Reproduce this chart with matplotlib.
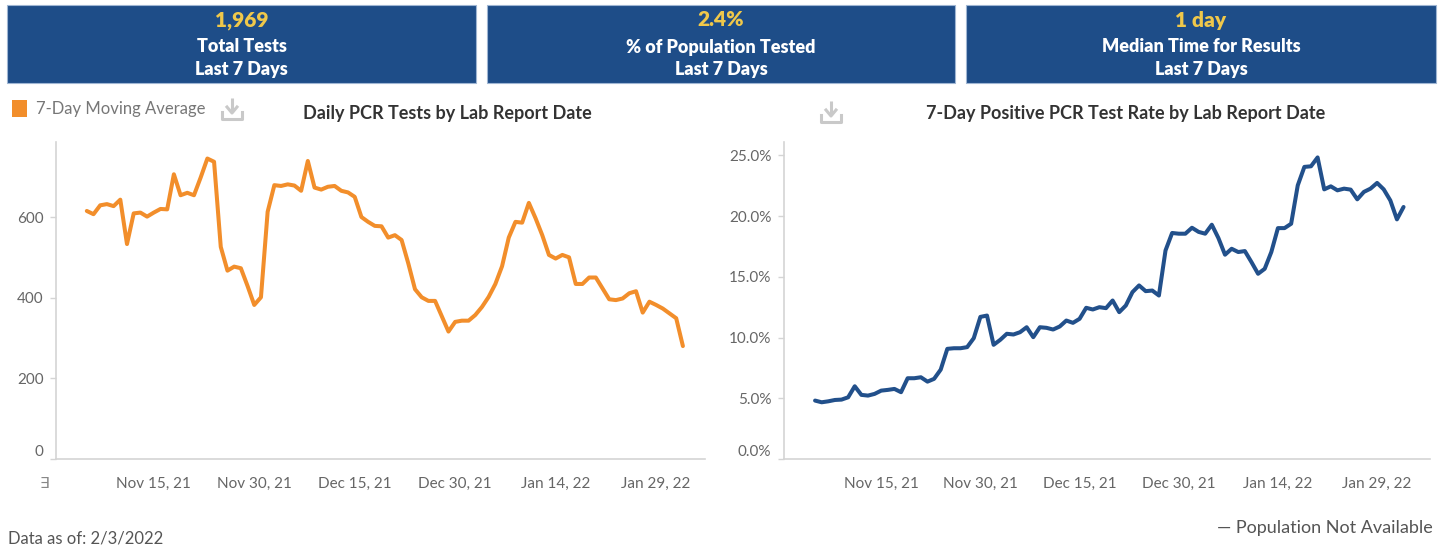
import matplotlib
matplotlib.use("Agg")
import matplotlib.pyplot as plt
import matplotlib.patches as patches
import pandas as pd

plt.rcParams['font.family'] = ['Lato', 'DejaVu Sans']

# ---------------- data ----------------
start_date = "2021-11-05"
end_date = "2022-02-02"

tests_7day_avg = [615, 607, 629, 632, 627, 643, 533, 609, 611, 601,
                  611, 620, 619, 706, 654, 660, 654, 698, 745, 737,
                  526, 467, 477, 473, 429, 382, 401, 613, 679, 677,
                  681, 678, 665, 739, 673, 668, 675, 677, 665, 661,
                  650, 600, 588, 578, 577, 549, 555, 543, 485, 421,
                  401, 392, 392, 354, 316, 340, 343, 343, 357, 377,
                  402, 434, 478, 549, 588, 586, 635, 597, 555, 506,
                  497, 506, 500, 434, 434, 450, 450, 423, 396, 394,
                  398, 411, 416, 363, 390, 382, 373, 361, 349, 280]

positive_rate = [4.81, 4.67, 4.75, 4.86, 4.89, 5.08, 5.99, 5.28, 5.22, 5.36,
                 5.63, 5.69, 5.77, 5.50, 6.65, 6.65, 6.73, 6.37, 6.60, 7.36,
                 9.07, 9.12, 9.12, 9.21, 9.95, 11.70, 11.81, 9.40, 9.81, 10.31,
                 10.25, 10.44, 10.85, 10.03, 10.85, 10.80, 10.66, 10.91, 11.40, 11.21,
                 11.54, 12.45, 12.31, 12.50, 12.42, 13.05, 12.09, 12.64, 13.74, 14.29,
                 13.82, 13.87, 13.46, 17.17, 18.61, 18.55, 18.55, 19.04, 18.70, 18.55,
                 19.29, 18.19, 16.82, 17.31, 17.04, 17.12, 16.21, 15.25, 15.66, 17.04,
                 19.01, 19.01, 19.37, 22.53, 24.05, 24.10, 24.83, 22.20, 22.45, 22.12,
                 22.26, 22.18, 21.38, 21.99, 22.26, 22.73, 22.20, 21.29, 19.73, 20.75]

tick_dates = ["2021-11-15", "2021-11-30", "2021-12-15", "2021-12-30", "2022-01-14", "2022-01-29"]
tick_labels = ["Nov 15, 21", "Nov 30, 21", "Dec 15, 21", "Dec 30, 21", "Jan 14, 22", "Jan 29, 22"]

left_yticks = [0, 200, 400, 600]
left_ylabels = ["0", "200", "400", "600"]
right_yticks = [0, 5, 10, 15, 20, 25]
right_ylabels = ["0.0%", "5.0%", "10.0%", "15.0%", "20.0%", "25.0%"]

kpi_values = ["1,969", "2.4%", "1 day"]
kpi_line1 = ["Total Tests", "% of Population Tested", "Median Time for Results"]
kpi_line2 = ["Last 7 Days", "Last 7 Days", "Last 7 Days"]

dates = pd.date_range(start_date, end_date, freq="D")

# ---------------- styling ----------------
W, H = 1442, 550
ORANGE = "#F28E2B"
BLUE = "#22508b"
BOX = "#1e4d88"
YELLOW = "#f0c84a"
TICK = "#666666"
AXLINE = "#d4d4d4"

fig = plt.figure(figsize=(W / 100, H / 100), dpi=100)
bg = fig.add_axes([0, 0, 1, 1])
bg.set_xlim(0, W)
bg.set_ylim(H, 0)
bg.axis("off")

# KPI boxes
boxes = [(7, 476), (487, 955), (966, 1436)]
for (x0, x1), v, l1, l2 in zip(boxes, kpi_values, kpi_line1, kpi_line2):
    bg.add_patch(patches.Rectangle((x0, 5), x1 - x0, 78, facecolor=BOX, edgecolor="#9fb6d3", lw=0.8))
    cx = (x0 + x1) / 2
    bg.text(cx, 20, v, color=YELLOW, fontsize=15, fontweight="heavy", ha="center", va="center")
    bg.text(cx, 47, l1, color="white", fontsize=13, fontweight="heavy", ha="center", va="center")
    bg.text(cx, 70, l2, color="white", fontsize=13, fontweight="heavy", ha="center", va="center")

# legend
bg.add_patch(patches.Rectangle((12, 100), 15, 17, facecolor=ORANGE, edgecolor="none"))
bg.text(36, 109, "7-Day Moving Average", color="#777777", fontsize=12, ha="left", va="center")

# chart titles
bg.text(447, 114, "Daily PCR Tests by Lab Report Date", color="#333333", fontsize=13,
        fontweight="bold", ha="center", va="center")
bg.text(1126, 114, "7-Day Positive PCR Test Rate by Lab Report Date", color="#333333", fontsize=13,
        fontweight="bold", ha="center", va="center")

# download icons
def download_icon(cx, cy):
    c = "#c9c9c9"
    bg.plot([cx, cx], [cy - 12, cy + 2], color=c, lw=2.2, solid_capstyle="butt")
    bg.plot([cx - 5, cx, cx + 5], [cy - 3, cy + 3, cy - 3], color=c, lw=2.2)
    bg.plot([cx - 10, cx - 10, cx + 10, cx + 10], [cy + 2, cy + 9, cy + 9, cy + 2], color=c, lw=2.2)

download_icon(232, 110)
download_icon(831, 113)

# footer
bg.text(8, 538, "Data as of: 2/3/2022", color="#555555", fontsize=12, ha="left", va="center")
bg.text(1433, 528, "\u2014 Population Not Available", color="#555555", fontsize=13, ha="right", va="center")
bg.text(44, 484, "\u2203", color="#888888", fontsize=11, ha="center", va="center", family="DejaVu Sans")


def make_axes(x0, x1, y0=142, y1=459):
    return fig.add_axes([x0 / W, (H - y1) / H, (x1 - x0) / W, (y1 - y0) / H])


def style(ax, yt, yl, ylim):
    for s in ["top", "right"]:
        ax.spines[s].set_visible(False)
    for s in ["left", "bottom"]:
        ax.spines[s].set_color(AXLINE)
        ax.spines[s].set_linewidth(1.2)
    ax.set_ylim(*ylim)
    ax.set_yticks(yt)
    ax.set_yticklabels(yl)
    ax.set_xticks(pd.to_datetime(tick_dates))
    ax.set_xticklabels(tick_labels)
    ax.tick_params(axis="y", colors=AXLINE, length=4, width=1, labelcolor=TICK, labelsize=11, pad=5)
    ax.tick_params(axis="x", length=0, labelcolor=TICK, labelsize=11, pad=13)
    lab0 = ax.get_yticklabels()[0]
    lab0.set_va("bottom")
    ax.patch.set_alpha(0)


day = pd.Timedelta(days=1)
t0 = pd.Timestamp(start_date)

axl = make_axes(56, 705)
axl.plot(dates, tests_7day_avg, color=ORANGE, lw=2.9, solid_joinstyle="round", solid_capstyle="round")
axl.set_xlim(t0 - 4.6 * day, t0 + 92.3 * day)
style(axl, left_yticks, left_ylabels, (0, 786))

axr = make_axes(784, 1430)
axr.plot(dates, positive_rate, color=BLUE, lw=2.9, solid_joinstyle="round", solid_capstyle="round")
axr.set_xlim(t0 - 4.7 * day, t0 + 93.0 * day)
style(axr, right_yticks, right_ylabels, (0, 26.1))

fig.savefig("out.png", dpi=100)
